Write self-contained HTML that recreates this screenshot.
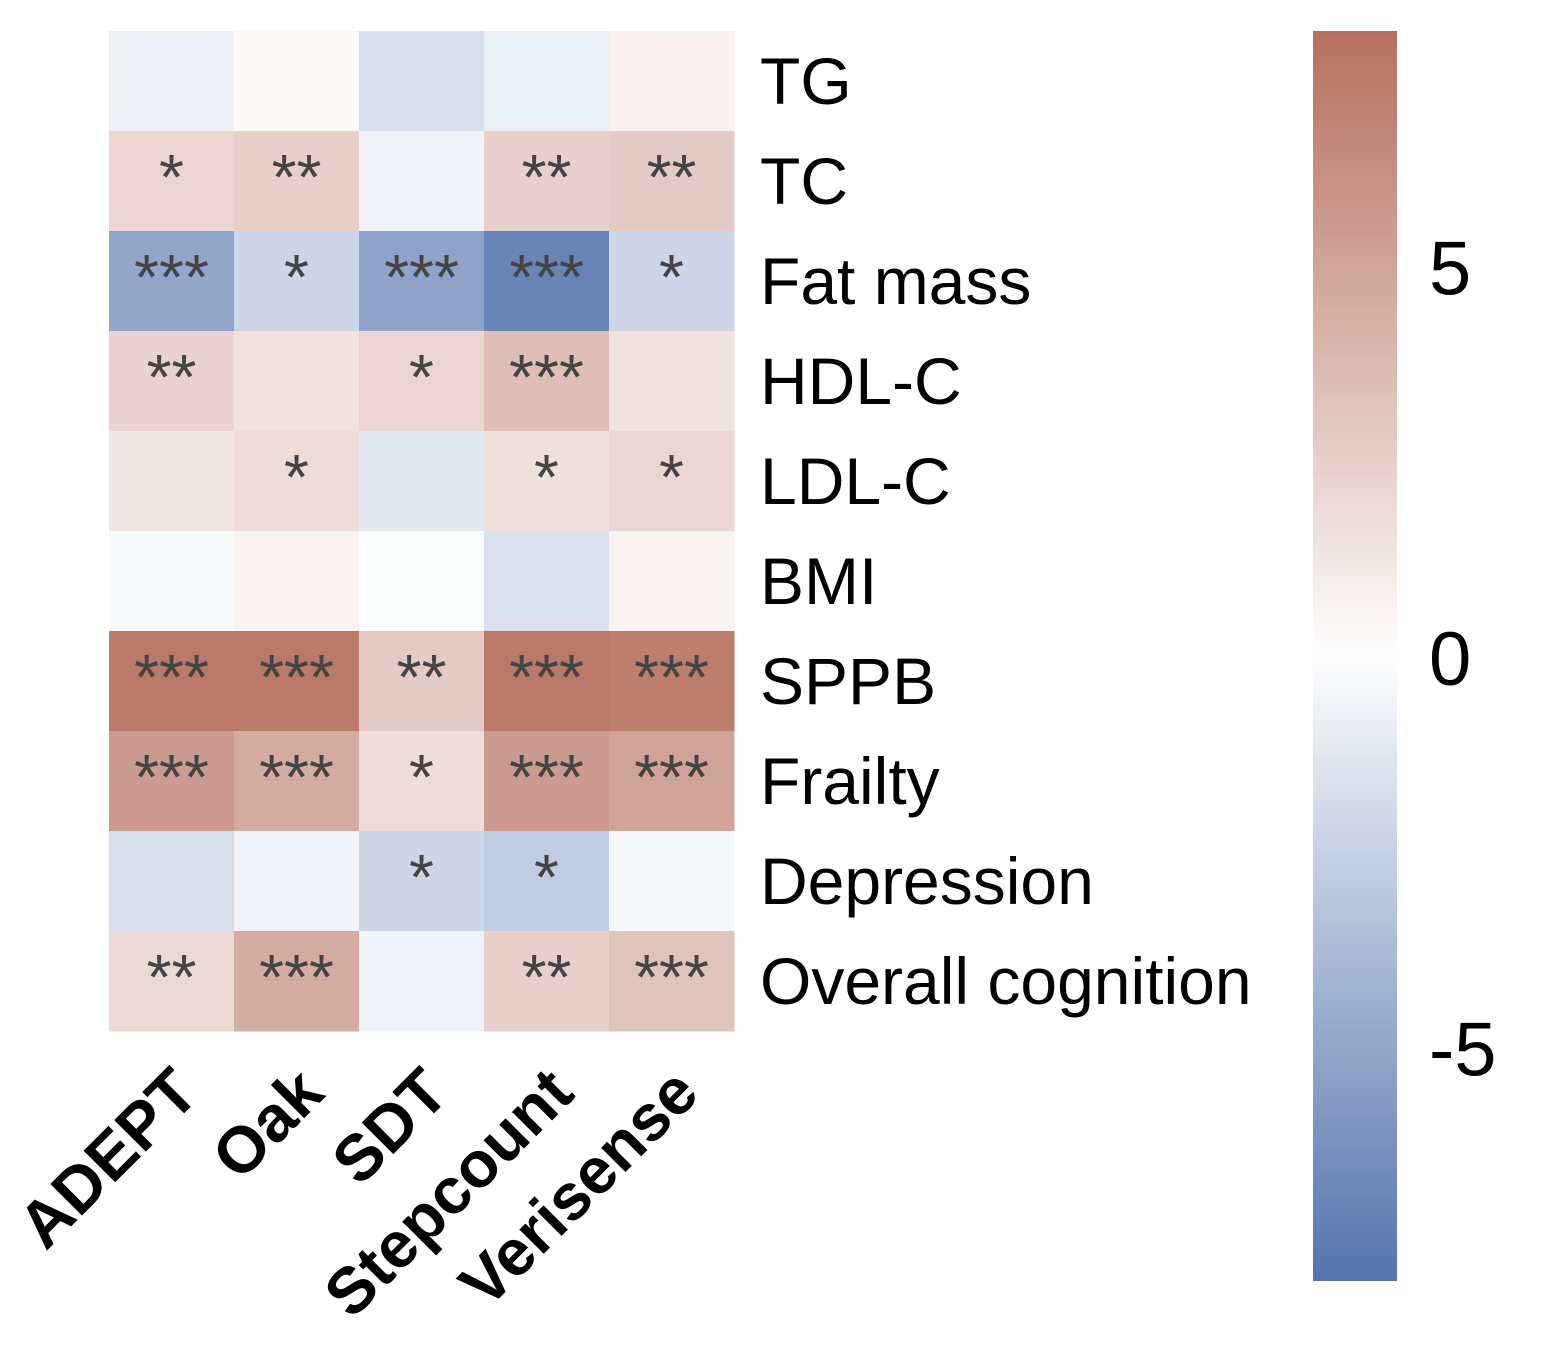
<!DOCTYPE html>
<html><head><meta charset="utf-8"><style>
html,body{margin:0;padding:0;background:#fff;}
svg{display:block;font-family:"Liberation Sans",Arial,sans-serif;}
</style></head><body>
<svg id="chart" width="1548" height="1351" viewBox="0 0 1548 1351">
<defs><linearGradient id="cbgrad" x1="0" y1="1" x2="0" y2="0"></linearGradient></defs>
<g id="cells"></g>
<g id="stars"></g>
<g id="rowlabels"></g>
<g id="collabels"></g>
<g id="colorbar"></g>
</svg>
<script>
const columns = ["ADEPT","Oak","SDT","Stepcount","Verisense"];
const rows = ["TG","TC","Fat mass","HDL-C","LDL-C","BMI","SPPB","Frailty","Depression","Overall cognition"];
const values = [
 [-0.8, 0.3, -1.7, -0.9, 0.7],
 [2.2, 2.5, -0.6, 2.4, 2.8],
 [-5.0, -2.2, -5.2, -7.0, -2.2],
 [2.3, 1.5, 2.2, 3.5, 1.5],
 [1.3, 1.8, -1.2, 1.6, 2.1],
 [-0.3, 0.6, -0.1, -1.6, 0.6],
 [7.5, 7.5, 2.8, 7.5, 7.2],
 [5.5, 4.5, 1.8, 5.5, 5.0],
 [-1.8, -0.6, -2.2, -2.8, -0.4],
 [2.0, 4.5, -0.7, 2.5, 3.2]
];
const stars = [
 ["","","","",""],
 ["*","**","","**","**"],
 ["***","*","***","***","*"],
 ["**","","*","***",""],
 ["","*","","*","*"],
 ["","","","",""],
 ["***","***","**","***","***"],
 ["***","***","*","***","***"],
 ["","","*","*",""],
 ["**","***","","**","***"]
];
const cbTicks = [5, 0, -5];
const vmin = -8, vmax = 8;

const NS = "http://www.w3.org/2000/svg";
const X0 = 109, Y0 = 31, CW = 125, RH = 100;
const CBX = 1313, CBW = 84, CBY0 = 31, CBY1 = 1281;
const xPos = i => X0 + i * CW;
const yPos = j => Y0 + j * RH;
const cbY = v => CBY1 - (v - vmin) / (vmax - vmin) * (CBY1 - CBY0);
const RED = [182,112,95], BLUE = [85,116,174], WHITE = [255,255,255];
function cmap(v){
  let t = Math.max(-1, Math.min(1, v / vmax));
  const end = t >= 0 ? RED : BLUE;
  const a = Math.pow(Math.abs(t), 0.95);
  const c = WHITE.map((w,k)=>Math.round(w + (end[k]-w)*a));
  return `rgb(${c[0]},${c[1]},${c[2]})`;
}
function mk(tag, attrs, parent){
  const e = document.createElementNS(NS, tag);
  for (const k in attrs) e.setAttribute(k, attrs[k]);
  parent.appendChild(e); return e;
}
const gCells = document.getElementById("cells");
const gStars = document.getElementById("stars");
rows.forEach((r, j) => {
  columns.forEach((c, i) => {
    const rect = mk("rect", {x: xPos(i), y: yPos(j), width: CW+0.5, height: RH+0.5, fill: cmap(values[j][i])}, gCells);
    
    
    if (stars[j][i]) {
      const t = mk("text", {x: xPos(i) + CW/2, y: yPos(j) + RH/2 + 18, "text-anchor": "middle", "font-size": 64, fill: "#444"}, gStars);
      t.textContent = stars[j][i];
      
      
    }
  });
});
const gRow = document.getElementById("rowlabels");
rows.forEach((r, j) => {
  const t = mk("text", {x: 760, y: yPos(j) + RH/2 + 23, "font-size": 66, fill: "#000"}, gRow);
  t.textContent = r;
  
  
});
const gCol = document.getElementById("collabels");
columns.forEach((c, i) => {
  const x = xPos(i) + CW/2 + 30, y = 1096;
  const t = mk("text", {x: x, y: y, "font-size": 65, "font-weight": "bold", "text-anchor": "end", fill: "#000", transform: `rotate(-45 ${x} ${y})`}, gCol);
  t.textContent = c;
  
  
});
const grad = document.getElementById("cbgrad");
for (let k = 0; k <= 40; k++) {
  const v = vmin + (vmax - vmin) * k / 40;
  mk("stop", {offset: (k/40), "stop-color": cmap(v)}, grad);
}
const gCb = document.getElementById("colorbar");
const cbRect = mk("rect", {x: CBX, y: CBY0, width: CBW, height: CBY1 - CBY0, fill: "url(#cbgrad)"}, gCb);


cbTicks.forEach(v => {
  const t = mk("text", {x: 1429, y: cbY(v) + 29, "font-size": 76, fill: "#000"}, gCb);
  t.textContent = String(v);
  
  
});
</script>
</body></html>
